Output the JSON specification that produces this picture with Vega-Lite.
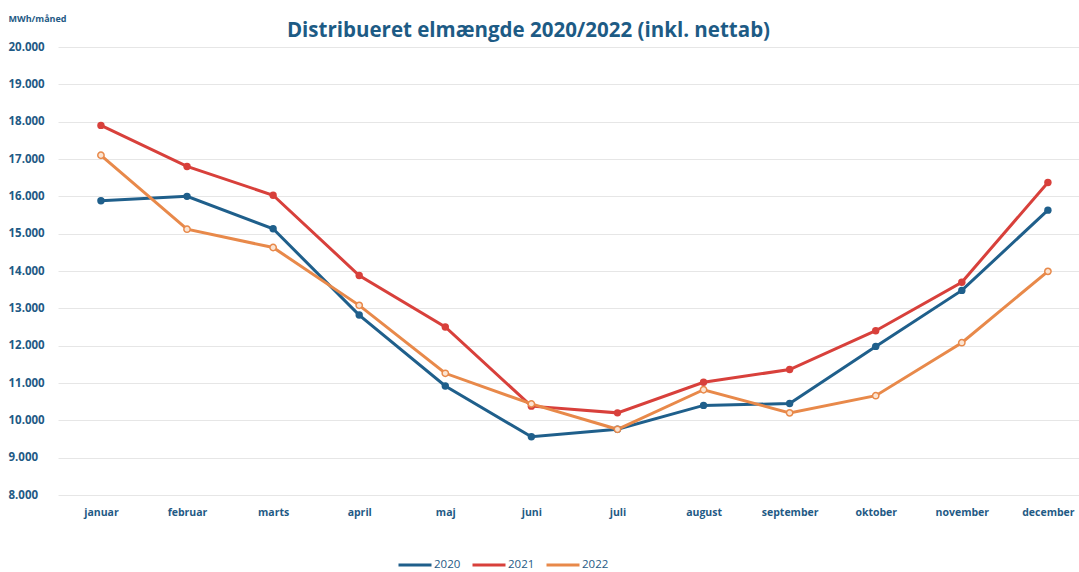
{
  "$schema": "https://vega.github.io/schema/vega-lite/v6.json",
  "autosize": "none",
  "width": 1021,
  "height": 448,
  "padding": {"left": 58, "top": 47, "right": 0, "bottom": 77},
  "background": "white",
  "config": {"view": {"stroke": null}},
  "title": {
    "text": "Distribueret elmængde 2020/2022 (inkl. nettab)",
    "font": "Open Sans",
    "fontSize": 20.5,
    "fontWeight": "bold",
    "color": "#1d5b85",
    "anchor": "middle",
    "dx": -40,
    "offset": -27
  },
  "data": {
    "values": [
      {"month": "januar", "year": "2020", "value": 15880},
      {"month": "februar", "year": "2020", "value": 16000},
      {"month": "marts", "year": "2020", "value": 15130},
      {"month": "april", "year": "2020", "value": 12820},
      {"month": "maj", "year": "2020", "value": 10920},
      {"month": "juni", "year": "2020", "value": 9560},
      {"month": "juli", "year": "2020", "value": 9760},
      {"month": "august", "year": "2020", "value": 10400},
      {"month": "september", "year": "2020", "value": 10450},
      {"month": "oktober", "year": "2020", "value": 11980},
      {"month": "november", "year": "2020", "value": 13480},
      {"month": "december", "year": "2020", "value": 15630},
      {"month": "januar", "year": "2021", "value": 17900},
      {"month": "februar", "year": "2021", "value": 16800},
      {"month": "marts", "year": "2021", "value": 16030},
      {"month": "april", "year": "2021", "value": 13880},
      {"month": "maj", "year": "2021", "value": 12500},
      {"month": "juni", "year": "2021", "value": 10380},
      {"month": "juli", "year": "2021", "value": 10200},
      {"month": "august", "year": "2021", "value": 11020},
      {"month": "september", "year": "2021", "value": 11360},
      {"month": "oktober", "year": "2021", "value": 12400},
      {"month": "november", "year": "2021", "value": 13700},
      {"month": "december", "year": "2021", "value": 16370},
      {"month": "januar", "year": "2022", "value": 17100},
      {"month": "februar", "year": "2022", "value": 15120},
      {"month": "marts", "year": "2022", "value": 14630},
      {"month": "april", "year": "2022", "value": 13080},
      {"month": "maj", "year": "2022", "value": 11260},
      {"month": "juni", "year": "2022", "value": 10440},
      {"month": "juli", "year": "2022", "value": 9760},
      {"month": "august", "year": "2022", "value": 10820},
      {"month": "september", "year": "2022", "value": 10200},
      {"month": "oktober", "year": "2022", "value": 10660},
      {"month": "november", "year": "2022", "value": 12080},
      {"month": "december", "year": "2022", "value": 13990}
    ]
  },
  "encoding": {
    "x": {
      "field": "month",
      "type": "ordinal",
      "sort": ["januar", "februar", "marts", "april", "maj", "juni", "juli", "august", "september", "oktober", "november", "december"],
      "scale": {"type": "point", "padding": 0.43, "align": 0.58},
      "axis": {
        "title": null,
        "labelAngle": 0,
        "domain": false,
        "ticks": false,
        "grid": false,
        "labelPadding": 12,
        "labelFont": "Open Sans",
        "labelFontSize": 10.5,
        "labelFontWeight": "bold",
        "labelColor": "#1f5a85"
      }
    },
    "y": {
      "field": "value",
      "type": "quantitative",
      "scale": {"domain": [8000, 20000], "nice": false, "zero": false},
      "axis": {
        "values": [8000, 9000, 10000, 11000, 12000, 13000, 14000, 15000, 16000, 17000, 18000, 19000, 20000],
        "labelExpr": "replace(format(datum.value, ','), ',', '.')",
        "domain": false,
        "ticks": false,
        "grid": true,
        "gridColor": "#e6e6e6",
        "gridWidth": 1,
        "labelAlign": "left",
        "labelPadding": 50,
        "labelFont": "Open Sans",
        "labelFontSize": 11.5,
        "labelFontWeight": "bold",
        "labelColor": "#1f5a85",
        "title": "MWh/måned",
        "titleAngle": 0,
        "titleAlign": "left",
        "titleBaseline": "middle",
        "titleX": -50,
        "titleY": -29,
        "titleFont": "Open Sans",
        "titleFontSize": 9,
        "titleFontWeight": "bold",
        "titleColor": "#1f5a85"
      }
    },
    "color": {
      "field": "year",
      "type": "nominal",
      "scale": {"domain": ["2020", "2021", "2022"], "range": ["#1f5f8b", "#d8403b", "#e8894a"]},
      "legend": {
        "title": null,
        "orient": "none",
        "direction": "horizontal",
        "legendX": 339,
        "legendY": 500,
        "symbolType": "stroke",
        "symbolSize": 1089,
        "symbolStrokeWidth": 3,
        "labelFont": "Open Sans",
        "labelFontSize": 11.5,
        "labelColor": "#1f5a85",
        "labelOffset": 1,
        "columnPadding": 5
      }
    }
  },
  "layer": [
    {
      "mark": {"type": "line"},
      "encoding": {
        "strokeWidth": {
          "field": "year",
          "type": "nominal",
          "scale": {"domain": ["2020", "2021", "2022"], "range": [3, 3, 2]},
          "legend": null
        }
      }
    },
    {
      "mark": {"type": "point", "filled": true, "size": 55, "opacity": 1},
      "transform": [{"filter": "datum.year != '2022'"}]
    },
    {
      "mark": {"type": "point", "filled": true, "size": 40, "fill": "#fbe4d2", "stroke": "#e8894a", "strokeWidth": 1.5, "opacity": 1},
      "transform": [{"filter": "datum.year == '2022'"}]
    }
  ]
}
